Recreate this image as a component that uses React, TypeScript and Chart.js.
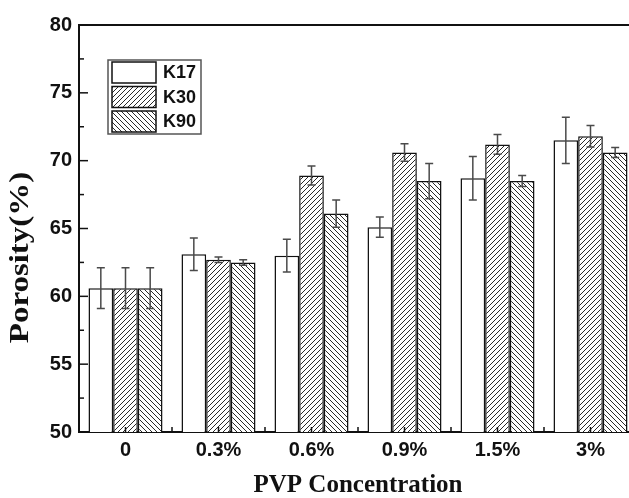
import React, { useEffect, useRef } from "react";
import { Chart, registerables } from "chart.js";

Chart.register(...registerables);

const categories = ["0", "0.3%", "0.6%", "0.9%", "1.5%", "3%"];
const seriesNames = ["K17", "K30", "K90"];
const k17 = [60.6, 63.1, 63.0, 65.1, 68.7, 71.5];
const k17Err = [1.5, 1.2, 1.2, 0.75, 1.6, 1.7];
const k30 = [60.6, 62.7, 68.9, 70.6, 71.2, 71.8];
const k30Err = [1.5, 0.2, 0.7, 0.65, 0.73, 0.8];
const k90 = [60.6, 62.5, 66.1, 68.5, 68.5, 70.6];
const k90Err = [1.5, 0.2, 1.0, 1.3, 0.4, 0.37];
const yMin = 50;
const yMax = 80;
const yStep = 5;
const yMinorStep = 2.5;
const yTitle = "Porosity(%)";
const xTitle = "PVP Concentration";

function makeHatch(dir: "fwd" | "back"): CanvasPattern | string {
  const p = 5;
  const c = document.createElement("canvas");
  c.width = p;
  c.height = p;
  const g = c.getContext("2d");
  if (!g) return "#fff";
  g.fillStyle = "#ffffff";
  g.fillRect(0, 0, p, p);
  g.strokeStyle = "#2a2a2a";
  g.lineWidth = 1;
  g.beginPath();
  if (dir === "fwd") {
    g.moveTo(0, p);
    g.lineTo(p, 0);
    g.moveTo(-1, 1);
    g.lineTo(1, -1);
    g.moveTo(p - 1, p + 1);
    g.lineTo(p + 1, p - 1);
  } else {
    g.moveTo(0, 0);
    g.lineTo(p, p);
    g.moveTo(-1, p - 1);
    g.lineTo(1, p + 1);
    g.moveTo(p - 1, -1);
    g.lineTo(p + 1, 1);
  }
  g.stroke();
  const pat = g.createPattern(c, "repeat");
  return pat || "#fff";
}

const errorBarPlugin = {
  id: "errorBars",
  afterDatasetsDraw(chart: any) {
    const { ctx, scales } = chart;
    const y = scales.y;
    ctx.save();
    ctx.strokeStyle = "#4a4a4a";
    ctx.lineWidth = 1.5;
    chart.data.datasets.forEach((ds: any, di: number) => {
      const meta = chart.getDatasetMeta(di);
      meta.data.forEach((bar: any, i: number) => {
        const v = ds.data[i];
        const e = ds.errors[i];
        const yt = y.getPixelForValue(v + e);
        const yb = y.getPixelForValue(v - e);
        const x = bar.x;
        ctx.beginPath();
        ctx.moveTo(x, yt);
        ctx.lineTo(x, yb);
        ctx.moveTo(x - 4, yt);
        ctx.lineTo(x + 4, yt);
        ctx.moveTo(x - 4, yb);
        ctx.lineTo(x + 4, yb);
        ctx.stroke();
      });
    });
    ctx.restore();
  },
};

const framePlugin = {
  id: "frameTicks",
  afterDraw(chart: any) {
    const { ctx, chartArea, scales } = chart;
    const { left, right, top, bottom } = chartArea;
    const x = scales.x;
    const y = scales.y;
    ctx.save();
    ctx.strokeStyle = "#111";
    ctx.lineWidth = 2;
    ctx.beginPath();
    ctx.moveTo(left - 1, top);
    ctx.lineTo(right, top);
    ctx.lineTo(right, bottom);
    ctx.stroke();
    ctx.lineWidth = 1.5;
    for (let v = yMin; v <= yMax + 1e-9; v += yMinorStep) {
      const py = y.getPixelForValue(v);
      const major = Math.abs(v / yStep - Math.round(v / yStep)) < 1e-6;
      const len = major ? 9 : 5;
      ctx.beginPath();
      ctx.moveTo(left, py);
      ctx.lineTo(left + len, py);
      ctx.stroke();
    }
    for (let i = 0; i < categories.length; i++) {
      const c = x.getPixelForValue(i);
      const b = x.getPixelForValue(i + 0.5);
      ctx.beginPath();
      ctx.moveTo(c, bottom);
      ctx.lineTo(c, bottom - 5);
      ctx.moveTo(b, bottom);
      ctx.lineTo(b, bottom - 5);
      ctx.stroke();
    }
    // y axis title (slightly stretched along its length, as in the source)
    ctx.save();
    ctx.translate(21.5, (top + bottom) / 2 + 29);
    ctx.rotate(-Math.PI / 2);
    ctx.scale(1.22, 1);
    ctx.font = "bold 27px 'Liberation Serif', 'Times New Roman', serif";
    ctx.fillStyle = "#111";
    ctx.textAlign = "center";
    ctx.textBaseline = "middle";
    ctx.fillText(yTitle, 0, 0);
    ctx.restore();
    // legend
    const lx = left + 29;
    const ly = top + 35;
    const lw = 93;
    const lh = 74;
    ctx.fillStyle = "#fff";
    ctx.fillRect(lx, ly, lw, lh);
    ctx.strokeStyle = "#555";
    ctx.lineWidth = 1.5;
    ctx.strokeRect(lx, ly, lw, lh);
    ctx.font = "bold 18px 'Liberation Sans', Arial, sans-serif";
    ctx.textBaseline = "middle";
    ctx.textAlign = "left";
    chart.data.datasets.forEach((ds: any, di: number) => {
      const ry = ly + 2 + di * 24.5;
      ctx.fillStyle = ds.backgroundColor;
      ctx.fillRect(lx + 4, ry, 44, 21);
      ctx.strokeStyle = "#111";
      ctx.lineWidth = 1.5;
      ctx.strokeRect(lx + 4, ry, 44, 21);
      ctx.fillStyle = "#111";
      ctx.fillText(ds.label, lx + 55, ry + 11.5);
    });
    ctx.restore();
  },
};

export default function App() {
  const ref = useRef<HTMLCanvasElement | null>(null);
  useEffect(() => {
    if (!ref.current) return;
    const fwd = makeHatch("fwd");
    const back = makeHatch("back");
    const common = {
      borderColor: "#111",
      borderWidth: 1.5,
      borderSkipped: false,
      barPercentage: 1,
      categoryPercentage: 0.796,
    };
    const chart = new Chart(ref.current, {
      type: "bar",
      data: {
        labels: categories,
        datasets: [
          { label: seriesNames[0], data: k17, errors: k17Err, backgroundColor: "#ffffff", ...common } as any,
          { label: seriesNames[1], data: k30, errors: k30Err, backgroundColor: fwd, ...common } as any,
          { label: seriesNames[2], data: k90, errors: k90Err, backgroundColor: back, ...common } as any,
        ],
      },
      options: {
        responsive: false,
        animation: false,
        devicePixelRatio: 1,
        layout: { padding: { left: 0, top: 25, right: 8, bottom: 0 } },
        plugins: { legend: { display: false }, tooltip: { enabled: false } },
        scales: {
          x: {
            type: "category",
            offset: true,
            grid: { display: false, drawTicks: false },
            border: { display: true, color: "#111", width: 2 },
            ticks: {
              color: "#111",
              padding: 6,
              maxRotation: 0,
              font: { family: "'Liberation Sans', Arial, sans-serif", size: 20, weight: "bold" },
            },
            title: {
              display: true,
              text: xTitle,
              color: "#111",
              padding: { top: 0, bottom: 0 },
              font: { family: "'Liberation Serif', 'Times New Roman', serif", size: 25, weight: "bold", lineHeight: 1 },
            },
            afterFit: (s: any) => {
              s.height = 66;
            },
          },
          y: {
            min: yMin,
            max: yMax,
            grid: { display: false, drawTicks: false },
            border: { display: true, color: "#111", width: 2 },
            ticks: {
              stepSize: yStep,
              color: "#111",
              padding: 7,
              font: { family: "'Liberation Sans', Arial, sans-serif", size: 20, weight: "bold" },
            },
            title: { display: false },
            afterFit: (s: any) => {
              s.width = 79;
            },
          },
        },
      } as any,
      plugins: [errorBarPlugin, framePlugin],
    });
    return () => chart.destroy();
  }, []);
  return (
    <div
      style={{
        position: "fixed",
        left: 0,
        top: 0,
        width: 629,
        height: 498,
        overflow: "hidden",
        background: "#fff",
      }}
    >
      <canvas ref={ref} width={645} height={498} style={{ display: "block" }} />
    </div>
  );
}
